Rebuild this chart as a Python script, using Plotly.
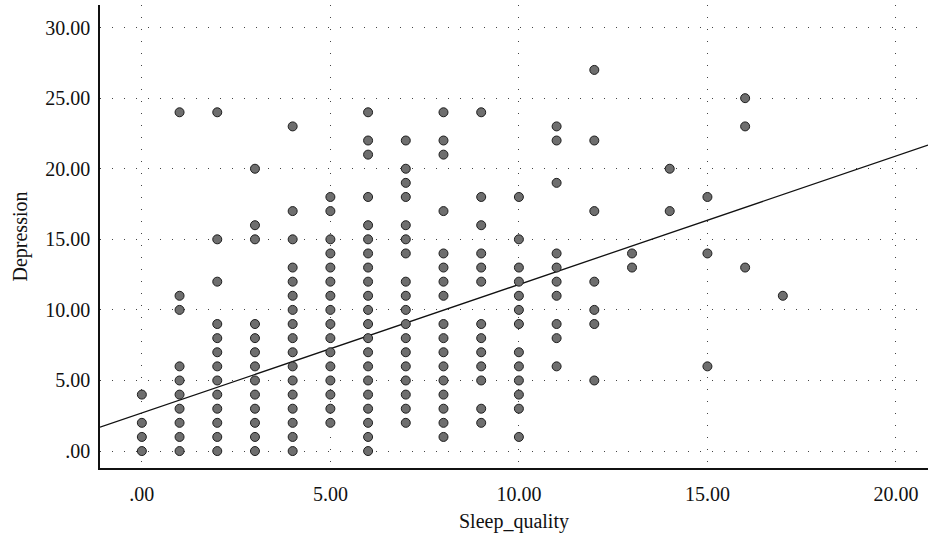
import plotly.graph_objects as go

# Sleep_quality value -> list of Depression values observed at that value
sleep_levels = [0, 1, 2, 3, 4, 5, 6, 7, 8, 9, 10, 11, 12, 13, 14, 15, 16, 17]
depression_by_level = [
    [0, 1, 2, 4],
    [0, 1, 2, 3, 4, 5, 6, 10, 11, 24],
    [0, 1, 2, 3, 4, 5, 6, 7, 8, 9, 12, 15, 24],
    [0, 1, 2, 3, 4, 5, 6, 7, 8, 9, 15, 16, 20],
    [0, 1, 2, 3, 4, 5, 6, 7, 8, 9, 10, 11, 12, 13, 15, 17, 23],
    [2, 3, 4, 5, 6, 7, 8, 9, 10, 11, 12, 13, 14, 15, 17, 18],
    [0, 1, 2, 3, 4, 5, 6, 7, 8, 9, 10, 11, 12, 13, 14, 15, 16, 18, 21, 22, 24],
    [2, 3, 4, 5, 6, 7, 8, 9, 10, 11, 12, 14, 15, 16, 18, 19, 20, 22],
    [1, 2, 3, 4, 5, 6, 7, 8, 9, 11, 12, 13, 14, 17, 21, 22, 24],
    [2, 3, 5, 6, 7, 8, 9, 12, 13, 14, 16, 18, 24],
    [1, 3, 4, 5, 6, 7, 9, 10, 11, 12, 13, 15, 18],
    [6, 8, 9, 11, 12, 13, 14, 19, 22, 23],
    [5, 9, 10, 12, 17, 22, 27],
    [13, 14],
    [17, 20],
    [6, 14, 18],
    [13, 23, 25],
    [11],
]

# Fit line
fit_intercept = 2.7
fit_slope = 0.91

x_ticks = [0, 5, 10, 15, 20]
x_tick_text = [".00", "5.00", "10.00", "15.00", "20.00"]
y_ticks = [0, 5, 10, 15, 20, 25, 30]
y_tick_text = [".00", "5.00", "10.00", "15.00", "20.00", "25.00", "30.00"]

x_range = [-1.11, 20.85]
y_range = [-1.2, 31.6]

xs, ys = [], []
for lv, vals in zip(sleep_levels, depression_by_level):
    for v in vals:
        xs.append(lv)
        ys.append(v)

font_family = "Liberation Serif, DejaVu Serif, serif"

fig = go.Figure()
fig.add_trace(go.Scatter(
    x=x_range,
    y=[fit_intercept + fit_slope * x for x in x_range],
    mode="lines",
    line=dict(color="#111111", width=1.3),
    showlegend=False,
    hoverinfo="skip",
))
fig.add_trace(go.Scatter(
    x=xs, y=ys, mode="markers",
    marker=dict(size=9, color="#6e6e6e", line=dict(color="#1e1e1e", width=1)),
    showlegend=False,
))

fig.update_layout(
    width=928, height=542,
    margin=dict(l=100, r=0, t=5, b=74, autoexpand=False),
    paper_bgcolor="white", plot_bgcolor="white",
    font=dict(family=font_family, size=20, color="#111111"),
    xaxis=dict(
        range=x_range, tickvals=x_ticks, ticktext=x_tick_text,
        showgrid=True, gridcolor="#444444", gridwidth=1, griddash="1px,11px",
        zeroline=False, showline=True, linecolor="#111111", linewidth=1.5,
        ticks="", ticklabelstandoff=7,
        title=dict(text="Sleep_quality", standoff=10, font=dict(size=20)),
        tickfont=dict(size=20),
    ),
    yaxis=dict(
        range=y_range, tickvals=y_ticks, ticktext=y_tick_text,
        showgrid=True, gridcolor="#444444", gridwidth=1, griddash="1px,11px",
        zeroline=False, showline=True, linecolor="#111111", linewidth=1.5,
        ticks="", ticklabelstandoff=4,
        title=dict(text="Depression", standoff=12, font=dict(size=20)),
        tickfont=dict(size=20),
    ),
)

fig.write_html("out.html", config={"displayModeBar": False},
               post_script="document.body.style.margin='0';")
